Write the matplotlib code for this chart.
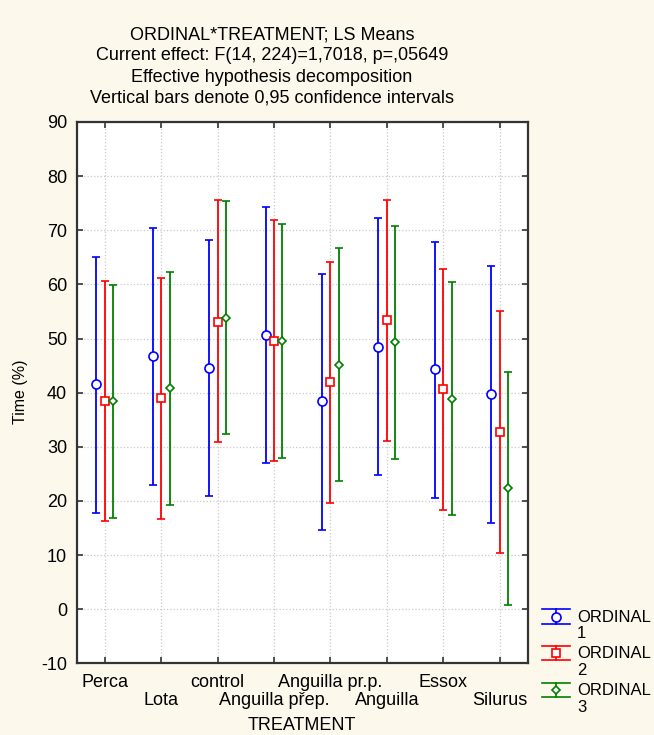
import matplotlib
matplotlib.use("Agg")
import matplotlib.pyplot as plt
import matplotlib.transforms as mtransforms
import numpy as np
from matplotlib.lines import Line2D

plt.rcParams['font.family'] = ['Liberation Sans', 'DejaVu Sans']
plt.rcParams['axes.unicode_minus'] = False

categories = ["Perca", "Lota", "control", "Anguilla přep.", "Anguilla pr.p.",
              "Anguilla", "Essox", "Silurus"]
series_names = ["ORDINAL\n1", "ORDINAL\n2", "ORDINAL\n3"]

mean1 = [41.6, 46.7, 44.6, 50.7, 38.5, 48.5, 44.4, 39.8]
upper1 = [65.1, 70.4, 68.2, 74.3, 62.0, 72.2, 67.9, 63.4]
lower1 = [17.8, 23.0, 20.9, 27.0, 14.7, 24.8, 20.6, 16.0]

mean2 = [38.5, 39.0, 53.1, 49.6, 41.9, 53.4, 40.6, 32.7]
upper2 = [60.7, 61.2, 75.5, 71.9, 64.2, 75.6, 62.8, 55.0]
lower2 = [16.2, 16.7, 30.9, 27.4, 19.6, 31.0, 18.3, 10.4]

mean3 = [38.4, 40.8, 53.8, 49.6, 45.2, 49.3, 38.9, 22.3]
upper3 = [59.9, 62.2, 75.4, 71.1, 66.8, 70.7, 60.4, 43.8]
lower3 = [16.8, 19.2, 32.3, 27.9, 23.7, 27.7, 17.4, 0.8]

yticks = [-10, 0, 10, 20, 30, 40, 50, 60, 70, 80, 90]

colors = ['#0000ff', '#ff0000', '#008000']
markers = ['o', 's', 'D']
msizes = [6.5, 6.0, 4.5]
offsets = [-0.15, 0.0, 0.15]

W, H = 654, 735
FS = 13
bg = '#fdf8ec'
fig = plt.figure(figsize=(W / 100, H / 100), dpi=100, facecolor=bg)
ax = fig.add_axes([76.7 / W, 1 - 663.3 / H, (527.7 - 76.7) / W, (663.3 - 122.0) / H])
ax.set_facecolor('white')

x = np.arange(len(categories))
for i, (m, up, lo) in enumerate([(mean1, upper1, lower1), (mean2, upper2, lower2), (mean3, upper3, lower3)]):
    m = np.array(m); up = np.array(up); lo = np.array(lo)
    ax.errorbar(x + offsets[i], m, yerr=[m - lo, up - m], fmt=markers[i],
                color=colors[i], ecolor=colors[i], mfc='white', mec=colors[i],
                ms=msizes[i], mew=1.2, elinewidth=1.3, capsize=2.6, capthick=1.3,
                zorder=3)

ax.set_xlim(-0.5, 7.5)
ax.set_ylim(-10, 90)
ax.set_yticks(yticks)
ax.set_xticks(x)
ax.set_xticklabels([])
ax.grid(True, color='#c8c8c8', linestyle=':', linewidth=0.9, zorder=0)
ax.set_axisbelow(True)
for s in ax.spines.values():
    s.set_color('#333333')
    s.set_linewidth(1.6)
ax.tick_params(direction='in', length=4, width=1.2, color='#333333',
               top=True, right=True, labelsize=FS, pad=7)

# two-row category labels
btrans = mtransforms.blended_transform_factory(ax.transData, ax.transAxes)
ax_h = 663.3 - 122.0
for k, c in enumerate(categories):
    base_px = 687.3 if k % 2 == 0 else 705.0
    ax.text(x[k], -(base_px - 663.3) / ax_h, c, transform=btrans, ha='center',
            va='baseline', fontsize=FS, clip_on=False)

fig.text(302 / W, 1 - 730 / H, "TREATMENT", ha='center', va='baseline', fontsize=FS)
fig.text(21 / W, 1 - 392 / H, "Time (%)", ha='center', va='center', rotation=90, fontsize=11.5)

titles = ["ORDINAL*TREATMENT; LS Means",
          "Current effect: F(14, 224)=1,7018, p=,05649",
          "Effective hypothesis decomposition",
          "Vertical bars denote 0,95 confidence intervals"]
for k, t in enumerate(titles):
    fig.text(272 / W, 1 - (39.3 + 21.1 * k) / H, t, ha='center', va='baseline', fontsize=FS)

# legend (drawn in figure pixel coordinates)
def fx(px):
    return px / W

def fy(py):
    return 1 - py / H

LFS = 12
for i in range(3):
    dy = 36.7 * i
    top, bot, mid = 609.3 + dy, 623.7 + dy, 616.5 + dy
    x0, x1, xc = 541.7, 570.0, 556.0
    for seg in ([x0, x1], [top, top]), ([x0, x1], [bot, bot]), ([xc, xc], [top, bot]):
        fig.add_artist(Line2D([fx(v) for v in seg[0]], [fy(v) for v in seg[1]],
                              color=colors[i], lw=1.2, transform=fig.transFigure))
    fig.add_artist(Line2D([fx(xc)], [fy(mid)], marker=markers[i], color=colors[i],
                          mfc='white', mec=colors[i], ms=msizes[i], mew=1.2, ls='none',
                          transform=fig.transFigure))
    first, second = series_names[i].split("\n")
    fig.text(fx(577), fy(617 + dy), first, ha='left', va='center', fontsize=LFS)
    fig.text(fx(577), fy(634 + dy), second, ha='left', va='center', fontsize=LFS)

fig.savefig("out.png", dpi=100, facecolor=bg)
